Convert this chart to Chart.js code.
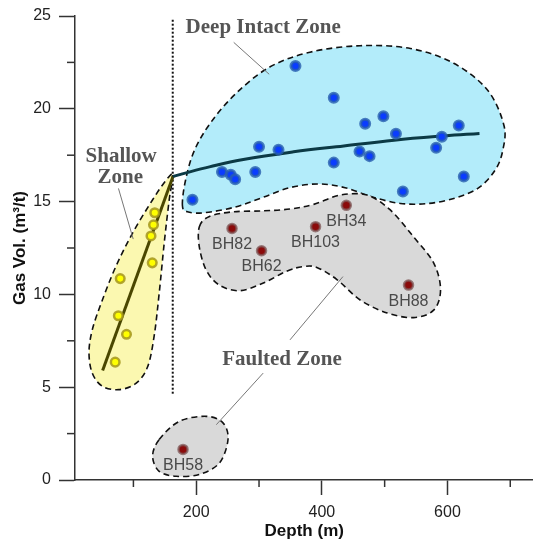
<!DOCTYPE html>
<html>
<head>
<meta charset="utf-8">
<script src="https://cdn.jsdelivr.net/npm/chart.js@4"></script>
<style>
  html, body { margin: 0; padding: 0; background: #fff; overflow: hidden; }
  #wrap { width: 600px; height: 543px; }
</style>
</head>
<body>
<div id="wrap"><canvas id="gasChart" width="541" height="543"></canvas></div>
<script>
// Gas volume vs depth, three zones

// measured points
const shallowDepth = [134, 132, 128, 130, 79, 76, 89, 71];
const shallowGas   = [14.4, 13.75, 13.15, 11.7, 10.85, 8.85, 7.85, 6.35];

const deepDepth = [358, 419, 469, 498, 518, 618, 591, 582, 300, 331, 419, 460, 476, 241, 255, 262, 294, 626, 529, 194];
const deepGas   = [22.3, 20.6, 19.2, 19.6, 18.65, 19.1, 18.5, 17.9, 17.95, 17.8, 17.1, 17.7, 17.45, 16.6, 16.45, 16.2, 16.6, 16.35, 15.55, 15.1];

const faultLabels = ['BH34', 'BH82', 'BH103', 'BH62', 'BH88', 'BH58'];
const faultDepth  = [439, 257, 390, 304, 538, 179];
const faultGas    = [14.8, 13.55, 13.65, 12.35, 10.5, 1.65];

// trend lines
const shallowTrendDepth = [51, 163];
const shallowTrendGas   = [5.9, 16.35];
const deepTrendDepth = [163, 184, 221, 275, 355, 435, 515, 595, 651];
const deepTrendGas   = [16.35, 16.55, 16.87, 17.27, 17.68, 18.0, 18.31, 18.54, 18.67];

// shallow / deep boundary (dotted)
const boundaryDepth = [162.6, 162.6];
const boundaryGas   = [4.65, 24.8];

// axis ticks
const xTickLabels = [200, 400, 600];
const yTickLabels = [0, 5, 10, 15, 20, 25];

// zone outlines, [depth, gas]
const deepZone = [[178, 14.8], [183, 16.15], [197, 17.75], [224, 19.3], [264, 20.85], [317, 22.25], [381, 23.05], [461, 23.4],
  [541, 23.25], [610, 22.45], [664, 21.0], [690, 19.1], [688, 17.75], [676, 16.7], [650, 15.75], [613, 15.2], [570, 14.9],
  [525, 14.9], [480, 15.25], [437, 15.75], [394, 15.95], [349, 15.75], [304, 15.2], [261, 14.7], [213, 14.4], [186, 14.45]];
const shallowZone = [[162.6, 16.42], [157, 15.1], [149, 12.75], [141, 10.05], [133, 7.75], [122.6, 6.1], [104, 5.2], [77, 4.87],
  [50.6, 5.05], [34.6, 5.75], [29.3, 6.85], [34.6, 8.1], [50.6, 9.7], [72, 11.5], [98.6, 13.3], [130.6, 15.1], [152, 16.15]];
const faultZone = [[205, 13.65], [221, 14.2], [258, 14.45], [306, 14.5], [349, 14.6], [387, 14.85], [429, 15.35], [472, 15.35],
  [509, 14.55], [546, 13.1], [578, 11.7], [589, 10.25], [578, 9.15], [546, 8.75], [504, 9.0], [461, 9.7], [424, 10.8],
  [392, 11.45], [370, 11.5], [344, 11.25], [306, 10.6], [269, 10.2], [237, 10.5], [216, 11.3], [205, 12.55]];
const bh58Zone = [[141, 2.18], [173, 3.16], [216, 3.43], [242.6, 3.08], [250.6, 2.18], [237, 0.92], [205, 0.3], [168, 0.2],
  [141, 0.47], [130.6, 1.28]];

// zone names and leader lines, [depth, gas]
const zoneNames = ['Deep Intact Zone', 'Shallow', 'Zone', 'Faulted Zone'];
const zoneNamePos = [[306.6, 24.1], [80.5, 17.15], [79, 15.98], [336.5, 6.2]];
const leaderLines = [
  [[259.7, 23.58], [316.2, 21.86]],
  [[76.2, 15.71], [99.7, 12.98]],
  [[433.6, 10.96], [349.3, 7.55]],
  [[306.6, 5.76], [232, 2.98]],
];

const SANS  = "'Liberation Sans', Arial, sans-serif";
const SERIF = "'Liberation Serif', 'Times New Roman', serif";
const AXIS_COLOR = '#333333';
const PAGE_W = 533;
const PAGE_H = 543;

function toXY(xs, ys) {
  return xs.map((x, i) => ({ x: x, y: ys[i] }));
}

// closed catmull-rom curve through pixel points
function closedCurve(ctx, pts) {
  const n = pts.length;
  ctx.beginPath();
  ctx.moveTo(pts[0][0], pts[0][1]);
  for (let i = 0; i < n; i++) {
    const p0 = pts[(i - 1 + n) % n], p1 = pts[i], p2 = pts[(i + 1) % n], p3 = pts[(i + 2) % n];
    ctx.bezierCurveTo(
      p1[0] + (p2[0] - p0[0]) / 6, p1[1] + (p2[1] - p0[1]) / 6,
      p2[0] - (p3[0] - p1[0]) / 6, p2[1] - (p3[1] - p1[1]) / 6,
      p2[0], p2[1]);
  }
  ctx.closePath();
}

const zonesPlugin = {
  id: 'zones',
  beforeDatasetsDraw(chart) {
    const { ctx, scales: { x, y } } = chart;
    const zones = [
      { pts: deepZone,    fill: '#b3ecfa' },
      { pts: faultZone,   fill: '#d9d9d9' },
      { pts: bh58Zone,    fill: '#d9d9d9' },
      { pts: shallowZone, fill: '#fbf8b0' },
    ];
    ctx.save();
    zones.forEach(z => {
      const px = z.pts.map(p => [x.getPixelForValue(p[0]), y.getPixelForValue(p[1])]);
      closedCurve(ctx, px);
      ctx.fillStyle = z.fill;
      ctx.fill();
      ctx.setLineDash([6, 4]);
      ctx.lineWidth = 1.6;
      ctx.strokeStyle = '#111111';
      ctx.stroke();
    });
    ctx.setLineDash([]);
    ctx.lineWidth = 1;
    ctx.strokeStyle = '#777777';
    leaderLines.forEach(l => {
      ctx.beginPath();
      ctx.moveTo(x.getPixelForValue(l[0][0]), y.getPixelForValue(l[0][1]));
      ctx.lineTo(x.getPixelForValue(l[1][0]), y.getPixelForValue(l[1][1]));
      ctx.stroke();
    });
    ctx.fillStyle = '#555555';
    ctx.font = 'bold 21px ' + SERIF;
    ctx.textAlign = 'center';
    ctx.textBaseline = 'alphabetic';
    zoneNames.forEach((t, i) => {
      ctx.fillText(t, x.getPixelForValue(zoneNamePos[i][0]), y.getPixelForValue(zoneNamePos[i][1]));
    });
    ctx.restore();
  },
  afterDatasetsDraw(chart) {
    const { ctx, scales: { x, y } } = chart;
    ctx.save();
    ctx.fillStyle = '#4a4a4a';
    ctx.font = '16px ' + SANS;
    ctx.textAlign = 'center';
    ctx.textBaseline = 'middle';
    faultLabels.forEach((t, i) => {
      ctx.fillText(t, x.getPixelForValue(faultDepth[i]), y.getPixelForValue(faultGas[i]) + 16);
    });
    ctx.restore();
  },
  afterDraw(chart) {
    // minor ticks, shorter than the labelled ones
    const { ctx, scales: { x, y } } = chart;
    ctx.save();
    ctx.strokeStyle = AXIS_COLOR;
    ctx.lineWidth = 1.5;
    x.ticks.forEach(t => {
      if (xTickLabels.includes(t.value)) return;
      const px = x.getPixelForValue(t.value);
      ctx.beginPath();
      ctx.moveTo(px, x.top);
      ctx.lineTo(px, x.top + 7);
      ctx.stroke();
    });
    y.ticks.forEach(t => {
      if (yTickLabels.includes(t.value)) return;
      const py = y.getPixelForValue(t.value);
      ctx.beginPath();
      ctx.moveTo(y.right, py);
      ctx.lineTo(y.right - 8, py);
      ctx.stroke();
    });
    ctx.restore();
  },
};

const bgPlugin = {
  id: 'bg',
  beforeDraw(chart) {
    const ctx = chart.ctx;
    ctx.save();
    ctx.fillStyle = '#ffffff';
    ctx.fillRect(0, 0, chart.width, chart.height);
    ctx.restore();
  },
};

const chart = new Chart(document.getElementById('gasChart'), {
  type: 'scatter',
  data: {
    datasets: [
      {
        label: 'Faulted',
        data: toXY(faultDepth, faultGas),
        pointRadius: 4.5,
        pointBorderWidth: 2.5,
        pointBackgroundColor: '#8b0a0a',
        pointBorderColor: 'rgba(125,85,85,0.75)',
      },
      {
        label: 'Deep',
        data: toXY(deepDepth, deepGas),
        pointRadius: 4.5,
        pointBorderWidth: 3,
        pointBackgroundColor: '#0a3cff',
        pointBorderColor: 'rgba(40,95,175,0.8)',
      },
      {
        label: 'Shallow',
        data: toXY(shallowDepth, shallowGas),
        pointRadius: 4.3,
        pointBorderWidth: 2.5,
        pointBackgroundColor: '#ffff00',
        pointBorderColor: 'rgba(165,150,30,0.85)',
      },
      {
        label: 'Deep trend',
        data: toXY(deepTrendDepth, deepTrendGas),
        showLine: true,
        tension: 0.4,
        pointRadius: 0,
        borderColor: '#0c3a45',
        borderWidth: 3,
      },
      {
        label: 'Shallow trend',
        data: toXY(shallowTrendDepth, shallowTrendGas),
        showLine: true,
        pointRadius: 0,
        borderColor: '#4a4700',
        borderWidth: 3,
      },
      {
        label: 'Boundary',
        data: toXY(boundaryDepth, boundaryGas),
        showLine: true,
        pointRadius: 0,
        borderColor: '#111111',
        borderWidth: 2,
        borderDash: [2, 2],
      },
    ],
  },
  options: {
    responsive: false,
    maintainAspectRatio: false,
    devicePixelRatio: 1,
    animation: false,
    events: [],
    layout: { padding: { top: 16, right: 0, bottom: 0, left: 0 } },
    plugins: {
      legend: { display: false },
      tooltip: { enabled: false },
    },
    scales: {
      x: {
        type: 'linear',
        min: 7,
        max: 737,
        afterFit: s => { s.height = 63; s.paddingLeft = 0; s.paddingRight = 0; },
        border: { color: AXIS_COLOR, width: 1.5 },
        grid: {
          drawOnChartArea: false,
          tickLength: 15,
          tickWidth: 1.5,
          tickColor: c => (c.tick && xTickLabels.includes(c.tick.value)) ? AXIS_COLOR : 'rgba(0,0,0,0)',
        },
        ticks: {
          stepSize: 100,
          includeBounds: false,
          autoSkip: false,
          maxRotation: 0,
          padding: 8,
          color: '#222222',
          font: { family: SANS, size: 16 },
          callback: v => xTickLabels.includes(v) ? String(v) : '',
        },
        title: {
          display: true,
          text: 'Depth (m)',
          color: '#111111',
          font: { family: SANS, size: 17, weight: 'bold' },
          padding: { top: 0, bottom: 1 },
        },
      },
      y: {
        type: 'linear',
        min: 0,
        max: 25,
        afterFit: s => { s.width = 75; s.paddingTop = 0; s.paddingBottom = 0; },
        border: { color: AXIS_COLOR, width: 1.5 },
        grid: {
          drawOnChartArea: false,
          tickLength: 16,
          tickWidth: 1.5,
          tickColor: c => (c.tick && yTickLabels.includes(c.tick.value)) ? AXIS_COLOR : 'rgba(0,0,0,0)',
        },
        ticks: {
          stepSize: 2.5,
          autoSkip: false,
          padding: 8,
          color: '#222222',
          font: { family: SANS, size: 16 },
          callback: v => yTickLabels.includes(v) ? String(v) : '',
        },
        title: {
          display: true,
          text: 'Gas Vol. (m³/t)',
          color: '#111111',
          font: { family: SANS, size: 17, weight: 'bold' },
          padding: { top: 10, bottom: 0 },
        },
      },
    },
  },
  plugins: [bgPlugin, zonesPlugin],
});

// the x axis runs to the right edge of the page in the original,
// Chart.js keeps a few pixels of margin there, so the canvas is widened
// and the overflow is cut off by the page
for (let i = 0; i < 4; i++) {
  const gap = PAGE_W - chart.chartArea.right;
  if (Math.abs(gap) < 0.5) break;
  chart.resize(Math.round(chart.width + gap), PAGE_H);
}
</script>
</body>
</html>
